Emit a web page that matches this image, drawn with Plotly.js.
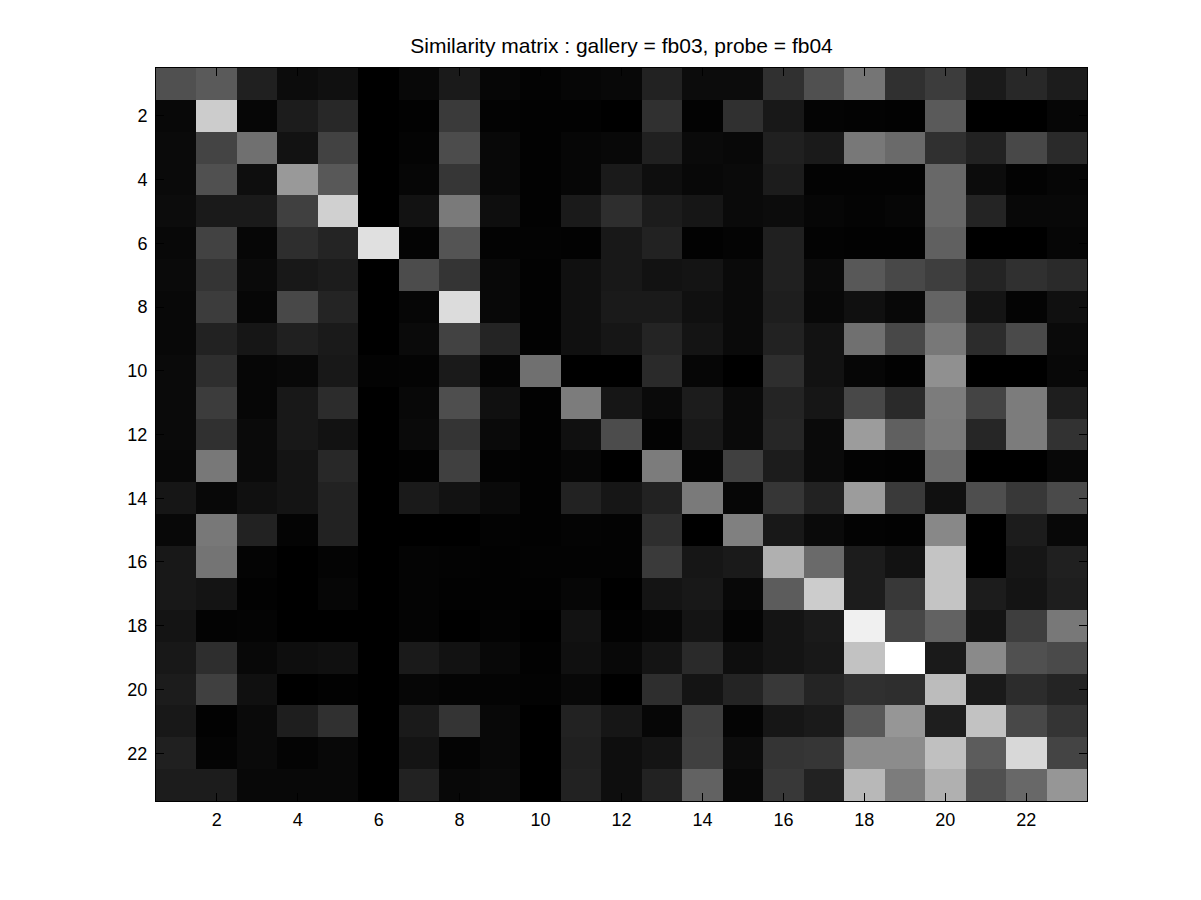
<!DOCTYPE html>
<html>
<head>
<meta charset="utf-8">
<script src="https://cdn.plot.ly/plotly-3.0.1.min.js"></script>
<style>body{margin:0;background:#fff;}#chart{width:1201px;height:900px;}</style>
</head>
<body>
<div id="chart"></div>
<script>
// Gallery (columns) and probe (rows) indices
const galleryIdx = Array.from({length: 23}, (_, i) => i + 1);
const probeIdx = Array.from({length: 23}, (_, i) => i + 1);
const tickVals = [2, 4, 6, 8, 10, 12, 14, 16, 18, 20, 22];
const titleText = "Similarity matrix : gallery = fb03, probe = fb04";

// Similarity values (grey level 0..255), one row per probe
const row01 = [80, 90, 32, 12, 16, 0, 8, 26, 6, 3, 6, 8, 34, 12, 12, 48, 80, 117, 48, 60, 26, 40, 28];
const row02 = [8, 204, 6, 28, 40, 0, 2, 58, 3, 2, 2, 0, 48, 3, 48, 24, 4, 3, 2, 90, 0, 0, 6];
const row03 = [10, 68, 112, 18, 66, 0, 4, 76, 8, 2, 6, 8, 32, 10, 8, 32, 26, 120, 106, 48, 34, 72, 42];
const row04 = [10, 80, 14, 153, 88, 0, 6, 54, 8, 2, 6, 26, 14, 8, 10, 28, 3, 3, 3, 104, 12, 3, 6];
const row05 = [12, 26, 26, 64, 208, 0, 18, 122, 14, 2, 26, 46, 28, 22, 10, 12, 6, 4, 6, 104, 36, 8, 8];
const row06 = [8, 66, 6, 46, 36, 224, 4, 84, 3, 3, 2, 24, 34, 2, 4, 32, 3, 2, 2, 96, 0, 0, 6];
const row07 = [10, 52, 10, 24, 28, 0, 76, 52, 8, 2, 16, 24, 18, 20, 10, 32, 10, 88, 72, 62, 36, 48, 42];
const row08 = [8, 60, 6, 72, 36, 0, 6, 220, 8, 2, 16, 26, 26, 16, 10, 30, 8, 16, 8, 100, 20, 4, 16];
const row09 = [8, 34, 22, 32, 26, 0, 10, 66, 36, 2, 16, 22, 36, 20, 10, 34, 18, 112, 72, 120, 44, 74, 10];
const row10 = [10, 46, 6, 8, 24, 3, 4, 26, 4, 112, 0, 0, 42, 6, 0, 46, 18, 6, 2, 144, 0, 0, 8];
const row11 = [10, 60, 6, 24, 44, 0, 8, 78, 16, 2, 124, 22, 10, 28, 10, 36, 22, 72, 42, 124, 68, 124, 30];
const row12 = [10, 48, 10, 24, 18, 0, 10, 52, 10, 2, 16, 76, 3, 24, 10, 38, 10, 156, 96, 122, 38, 124, 50];
const row13 = [8, 120, 10, 20, 40, 0, 2, 64, 3, 2, 6, 0, 124, 4, 64, 28, 10, 3, 2, 106, 0, 0, 8];
const row14 = [22, 8, 16, 20, 34, 0, 26, 18, 10, 2, 34, 22, 34, 122, 6, 54, 34, 156, 58, 16, 78, 56, 74];
const row15 = [8, 120, 34, 4, 34, 0, 0, 0, 3, 2, 4, 3, 46, 0, 128, 24, 10, 3, 2, 136, 0, 28, 8];
const row16 = [24, 116, 4, 0, 4, 0, 4, 3, 2, 3, 3, 3, 58, 22, 26, 176, 106, 28, 18, 196, 0, 22, 32];
const row17 = [24, 20, 2, 0, 6, 0, 4, 2, 2, 2, 6, 0, 20, 24, 8, 92, 204, 28, 56, 196, 28, 20, 30];
const row18 = [20, 3, 4, 0, 0, 0, 4, 0, 3, 0, 18, 2, 6, 20, 4, 20, 26, 240, 70, 98, 20, 62, 120];
const row19 = [24, 46, 8, 14, 16, 0, 26, 18, 8, 2, 16, 8, 20, 42, 14, 20, 24, 194, 255, 26, 138, 80, 74];
const row20 = [28, 64, 16, 0, 2, 0, 6, 4, 4, 3, 8, 0, 46, 20, 36, 56, 36, 48, 46, 188, 26, 44, 36];
const row21 = [24, 2, 10, 30, 48, 0, 26, 52, 8, 0, 34, 22, 6, 62, 4, 22, 26, 88, 150, 30, 194, 72, 52];
const row22 = [32, 4, 10, 4, 8, 0, 20, 4, 8, 0, 32, 14, 20, 64, 12, 52, 54, 140, 140, 192, 92, 216, 68];
const row23 = [28, 28, 8, 8, 8, 0, 34, 8, 10, 0, 34, 14, 34, 98, 8, 56, 34, 184, 124, 176, 80, 104, 150];

const zRows = [row01, row02, row03, row04, row05, row06, row07, row08, row09, row10, row11, row12,
  row13, row14, row15, row16, row17, row18, row19, row20, row21, row22, row23];

const trace = {
  type: 'heatmap',
  x: galleryIdx,
  y: probeIdx,
  z: zRows,
  zmin: 0,
  zmax: 255,
  colorscale: [[0, '#000000'], [1, '#ffffff']],
  showscale: false,
  hoverinfo: 'x+y+z'
};

const fontFam = 'Liberation Sans, Arial, Helvetica, sans-serif';

const axisCommon = {
  showgrid: false,
  zeroline: false,
  showline: true,
  linecolor: '#000',
  linewidth: 1,
  mirror: 'ticks',
  ticks: 'inside',
  ticklen: 8,
  tickwidth: 1,
  tickcolor: '#000',
  tickmode: 'array',
  tickvals: tickVals,
  ticktext: tickVals.map(String),
  tickfont: {family: fontFam, size: 18, color: '#000'}
};

const layout = {
  width: 1201,
  height: 900,
  paper_bgcolor: '#fff',
  plot_bgcolor: '#fff',
  margin: {l: 156, r: 114, t: 68, b: 99, pad: 0},
  title: {
    text: titleText,
    font: {family: fontFam, size: 21, color: '#000'},
    x: 0.5,
    xref: 'paper',
    xanchor: 'center',
    y: 1 - 46 / 900,
    yref: 'container',
    yanchor: 'middle'
  },
  xaxis: Object.assign({}, axisCommon, {range: [0.5, 23.5], ticklabelstandoff: 2}),
  yaxis: Object.assign({}, axisCommon, {range: [23.5, 0.5], ticklabelstandoff: 4}),
  showlegend: false
};

Plotly.newPlot('chart', [trace], layout, {displayModeBar: false, staticPlot: true});
</script>
</body>
</html>
